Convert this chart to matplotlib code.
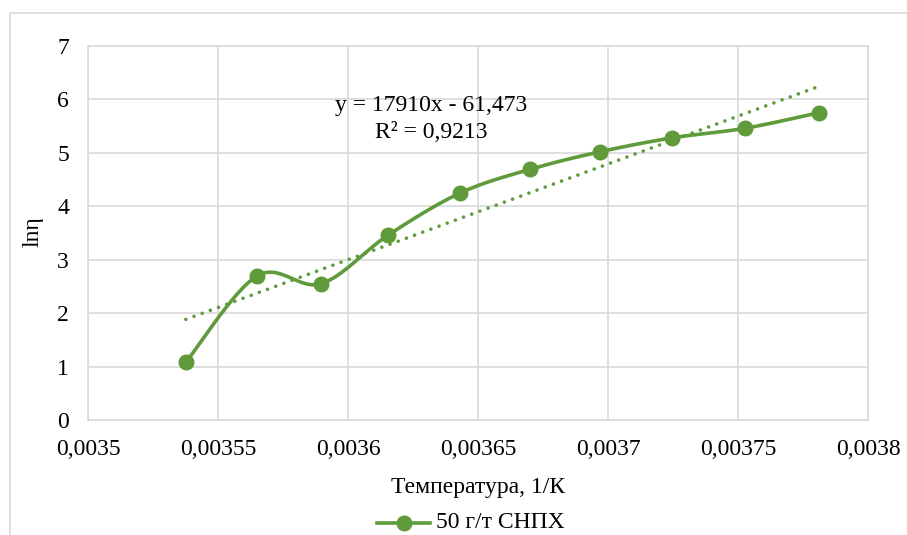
import numpy as np
import matplotlib.pyplot as plt
from matplotlib.patches import Rectangle
from matplotlib.ticker import FuncFormatter

plt.rcParams['font.family'] = ['Liberation Serif', 'DejaVu Serif']

# Reciprocal temperature, 1/K, and ln of viscosity
inv_t = [0.0035375, 0.0035650, 0.0035895, 0.0036153, 0.0036431,
         0.0036698, 0.0036968, 0.0037245, 0.0037526, 0.0037809]
ln_eta = [1.08, 2.70, 2.55, 3.46, 4.25, 4.69, 5.02, 5.28, 5.46, 5.75]

# Linear trend as printed on the chart
slope, intercept = 17910, -61.473
r2_text = '0,9213'
series_name = '50 г/т СНПХ'
xlabel = 'Температура, 1/К'
ylabel = 'lnη'

green = '#5f9b3a'
grid = '#d9d9d9'


def smooth(xs, ys, sx, sy, n=40):
    # Excel-like smoothed line (Catmull-Rom as cubic Bezier) in display-ish units
    p = np.column_stack([np.asarray(xs) * sx, np.asarray(ys) * sy])
    pts = np.vstack([p[0], p, p[-1]])
    out = []
    t = np.linspace(0, 1, n)[:, None]
    for i in range(1, len(pts) - 2):
        p0, p1, p2, p3 = pts[i - 1], pts[i], pts[i + 1], pts[i + 2]
        b1 = p1 + (p2 - p0) / 6
        b2 = p2 - (p3 - p1) / 6
        seg = ((1 - t) ** 3) * p1 + 3 * ((1 - t) ** 2) * t * b1 \
            + 3 * (1 - t) * t ** 2 * b2 + t ** 3 * p2
        out.append(seg if i == 1 else seg[1:])
    c = np.vstack(out)
    return c[:, 0] / sx, c[:, 1] / sy


fig = plt.figure(figsize=(9.07, 5.35), dpi=100)
ax = fig.add_axes([0.0974, 0.2150, 0.8599, 0.6990])

# outer chart frame
fig.add_artist(Rectangle((10 / 907, -0.1), 1.2, (535 - 13) / 535 + 0.1,
                         transform=fig.transFigure, fill=False,
                         edgecolor=grid, linewidth=1.2))

sx, sy = 130 / 0.00005, 53.43
xs, ys = smooth(inv_t, ln_eta, sx, sy)
ax.plot(xs, ys, color=green, linewidth=2.6, solid_capstyle='round', zorder=3)
ax.plot(inv_t, ln_eta, linestyle='none', marker='o', markersize=10.5,
        color=green, zorder=4)

tx = np.array([inv_t[0], inv_t[-1]])
ax.plot(tx, slope * tx + intercept, color=green, linewidth=2.6,
        linestyle=(0, (0.01, 2.4)), dash_capstyle='round', zorder=2)

ax.set_xlim(0.0035, 0.0038)
ax.set_ylim(0, 7)
ax.set_xticks(np.arange(0.0035, 0.00381, 0.00005))
ax.set_yticks(range(8))
ax.xaxis.set_major_formatter(FuncFormatter(
    lambda v, _: ('%.5f' % v).rstrip('0').replace('.', ',')))
ax.grid(True, color=grid, linewidth=1.2)
ax.set_axisbelow(True)
for s in ax.spines.values():
    s.set_color(grid)
    s.set_linewidth(1.2)
ax.tick_params(length=0, labelsize=17, colors='black')
ax.tick_params(axis='y', pad=14)
ax.tick_params(axis='x', pad=14)

eq_text = f'y = {slope}x - {abs(intercept):.3f}'.replace('.', ',')
fig.text(431 / 907, 1 - 105 / 535, eq_text, fontsize=17,
         ha='center', va='center')
fig.text(431 / 907, 1 - 133 / 535, f'R² = {r2_text}', fontsize=17,
         ha='center', va='center')

fig.text(478 / 907, 1 - 487 / 535, xlabel, fontsize=17,
         ha='center', va='center')
fig.text(33 / 907, 1 - 232 / 535, ylabel, fontsize=17, rotation=90,
         ha='center', va='center')

# legend entry
ly = 1 - 523 / 535
fig.add_artist(plt.Line2D([377 / 907, 430 / 907], [ly, ly], color=green,
                          linewidth=2.6))
fig.add_artist(plt.Line2D([404 / 907], [ly], marker='o', markersize=10.5,
                          color=green, linestyle='none'))
fig.text(436 / 907, ly, series_name, fontsize=17, ha='left', va='center')

fig.savefig('out.png', dpi=100)
